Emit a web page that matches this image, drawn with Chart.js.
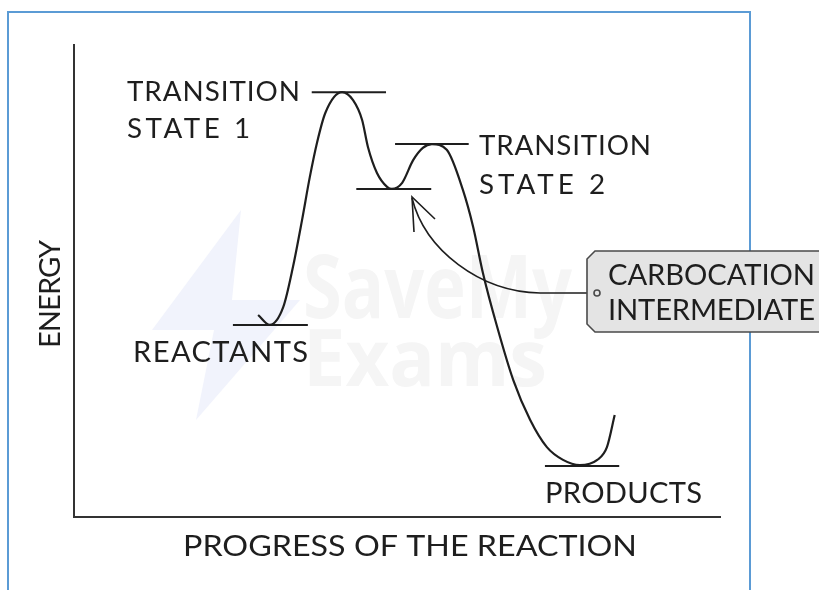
<!DOCTYPE html>
<html><head><meta charset="utf-8">
<script src="https://cdn.jsdelivr.net/npm/chart.js@4/dist/chart.umd.min.js"></script>
<style>html,body{margin:0;padding:0;background:#fff;overflow:hidden}#wrap{width:819px;height:590px;position:relative}</style>
</head><body><div id="wrap"><canvas id="c" width="819" height="590"></canvas></div>
<script>
// Reaction progress (0-100) and energy (0-100)
const progress = [28.5, 30.3, 32.4, 33.9, 35.3, 36.5, 37.6, 38.9, 41.5, 43.2, 44.6, 45.5, 46.9, 48.5, 49.2, 50.8, 52.5, 54.0, 55.4, 57.7, 60.2, 61.8, 63.3, 65.5, 68.0, 70.6, 73.2, 75.7, 78.3, 81.0, 82.5, 83.7];
const energy   = [42.8, 40.7, 44.5, 53.0, 62.9, 72.0, 79.2, 85.6, 90.0, 88.3, 84.1, 78.4, 72.9, 69.9, 69.5, 70.8, 75.6, 78.2, 79.0, 77.8, 69.3, 61.4, 51.7, 40.3, 29.0, 20.6, 14.8, 12.1, 11.0, 12.1, 14.8, 21.6];
// Horizontal level markers
const levelNames  = ['REACTANTS', 'TRANSITION STATE 1', 'CARBOCATION INTERMEDIATE', 'TRANSITION STATE 2', 'PRODUCTS'];
const levelEnergy = [40.7, 90.0, 69.5, 79.0, 10.8];
const levelStart  = [24.6, 36.8, 43.7, 49.7, 72.9];
const levelEnd    = [36.2, 48.3, 55.3, 61.1, 84.4];
const xAxisTitle = 'PROGRESS OF THE REACTION';
const yAxisTitle = 'ENERGY';

const FONT = 'Lato, "Noto Sans", sans-serif';
const INK = '#1e1e1e';

function fitText(ctx, text, left, right, cy, cap, mode, family, weight) {
  const size = cap / 0.72;
  ctx.save();
  ctx.font = `${weight || 'normal'} ${size}px ${family || FONT}`;
  ctx.letterSpacing = '0px';
  ctx.textAlign = 'left';
  ctx.textBaseline = 'alphabetic';
  const w = ctx.measureText(text).width;
  const target = right - left;
  const base = cy + cap / 2;
  if (mode === 'scale') {
    ctx.translate(left, base);
    ctx.scale(target / w, 1);
    ctx.fillText(text, 0, 0);
  } else {
    const n = [...text].length;
    const ls = (target - w) / (n - 1);
    ctx.letterSpacing = ls + 'px';
    ctx.fillText(text, left, base);
  }
  ctx.restore();
}

const decor = {
  id: 'decor',
  beforeDraw(chart) {
    const ctx = chart.ctx;
    ctx.save();
    ctx.fillStyle = '#fff';
    ctx.fillRect(0, 0, 819, 590);
    // faint watermark bolt
    ctx.fillStyle = '#f1f3fc';
    ctx.beginPath();
    ctx.moveTo(241, 210); ctx.lineTo(152, 330); ctx.lineTo(214, 330);
    ctx.lineTo(196, 420); ctx.lineTo(300, 300); ctx.lineTo(232, 300);
    ctx.closePath(); ctx.fill();
    ctx.restore();
    ctx.save();
    ctx.fillStyle = '#f5f5f5';
    fitText(ctx, 'SaveMy', 303, 572, 286, 63, 'scale', '"Open Sans", sans-serif', 'bold');
    fitText(ctx, 'Exams', 303, 547, 357, 57, 'scale', '"Open Sans", sans-serif', 'bold');
    ctx.restore();
    // frame
    ctx.save();
    ctx.strokeStyle = '#5b9bd5';
    ctx.lineWidth = 2;
    ctx.strokeRect(8, 12, 742, 600);
    ctx.restore();
  },
  afterDraw(chart) {
    const ctx = chart.ctx;
    ctx.save();
    ctx.fillStyle = INK;
    fitText(ctx, 'TRANSITION', 127, 300, 91, 20);
    fitText(ctx, 'STATE 1', 127, 250, 128, 20);
    fitText(ctx, 'TRANSITION', 479, 651, 145, 20);
    fitText(ctx, 'STATE 2', 479, 605, 184, 20);
    fitText(ctx, levelNames[0], 133, 308, 351, 21);
    fitText(ctx, levelNames[4], 545, 702, 492, 21);
    fitText(ctx, xAxisTitle, 183, 637, 545, 21, 'scale');
    ctx.save();
    ctx.translate(49, 294);
    ctx.rotate(-Math.PI / 2);
    fitText(ctx, yAxisTitle, -54, 54, 0, 21);
    ctx.restore();

    // arrow from label box to intermediate
    ctx.strokeStyle = INK;
    ctx.lineWidth = 1.6;
    ctx.beginPath();
    ctx.moveTo(594, 293);
    ctx.lineTo(540, 293);
    ctx.bezierCurveTo(480, 292, 425, 250, 412, 198);
    ctx.stroke();
    ctx.beginPath();
    ctx.moveTo(414, 232); ctx.lineTo(412, 197); ctx.lineTo(435, 219);
    ctx.stroke();

    // label box
    ctx.fillStyle = '#e4e4e4';
    ctx.strokeStyle = '#4a4a4a';
    ctx.lineWidth = 1.6;
    ctx.beginPath();
    ctx.moveTo(595, 251); ctx.lineTo(830, 251); ctx.lineTo(830, 332);
    ctx.lineTo(595, 332); ctx.lineTo(587, 324); ctx.lineTo(587, 259);
    ctx.closePath(); ctx.fill(); ctx.stroke();
    ctx.beginPath();
    ctx.arc(597, 293, 3, 0, Math.PI * 2);
    ctx.fillStyle = '#e4e4e4'; ctx.fill(); ctx.stroke();
    ctx.fillStyle = INK;
    const lbl = levelNames[2].split(' ');
    fitText(ctx, lbl[0], 608, 815, 274, 21);
    fitText(ctx, lbl[1], 608, 815, 309, 21);
    ctx.restore();
  }
};

const datasets = [{
  data: progress.map((x, i) => ({ x, y: energy[i] })),
  borderColor: INK, borderWidth: 2.2, pointRadius: 0,
  cubicInterpolationMode: 'monotone', fill: false
}];
levelEnergy.forEach((e, i) => {
  datasets.push({
    data: [{ x: levelStart[i], y: e }, { x: levelEnd[i], y: e }],
    borderColor: INK, borderWidth: 2, pointRadius: 0, tension: 0, fill: false
  });
});

new Chart(document.getElementById('c'), {
  type: 'line',
  data: { datasets },
  options: {
    responsive: false, animation: false, devicePixelRatio: 1,
    layout: { padding: { left: 74, right: 99, top: 45, bottom: 73 } },
    plugins: { legend: { display: false }, tooltip: { enabled: false } },
    scales: {
      x: { type: 'linear', min: 0, max: 100,
           ticks: { display: false }, grid: { display: false, drawTicks: false },
           border: { display: true, color: '#333', width: 2 } },
      y: { type: 'linear', min: 0, max: 100,
           ticks: { display: false }, grid: { display: false, drawTicks: false },
           border: { display: true, color: '#333', width: 2 } }
    }
  },
  plugins: [decor]
});
</script></body></html>
